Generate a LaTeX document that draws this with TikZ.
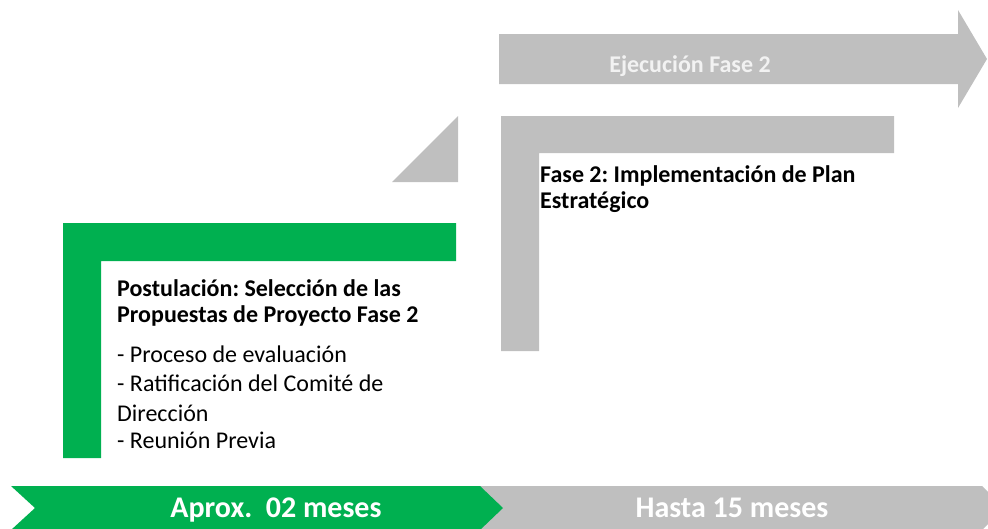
\documentclass[tikz,border=0pt]{standalone}
\usepackage{fontspec}
\setmainfont{Carlito}
\frenchspacing
\definecolor{pgreen}{HTML}{00B050}
\definecolor{pgray}{HTML}{BFBFBF}
\definecolor{ptext}{HTML}{F2F2F2}
\tikzset{
  greenshape/.style={fill=pgreen, draw=none},
  grayshape/.style={fill=pgray, draw=none},
  boxtitle/.style={anchor=base west, inner sep=0pt, font=\fontsize{24}{26}\selectfont\bfseries, text=black},
  boxitem/.style={anchor=base west, inner sep=0pt, font=\fontsize{24}{26}\selectfont, text=black},
  bandlabel/.style={anchor=base, inner sep=0pt, font=\fontsize{30}{32}\selectfont\bfseries, text=white},
  arrowlabel/.style={anchor=base, inner sep=0pt, font=\fontsize{24}{26}\selectfont\bfseries, text=ptext}
}
\begin{document}
\begin{tikzpicture}[x=1pt,y=-1pt]
\useasboundingbox (0,0) rectangle (988,528);
\clip (0,0) rectangle (988,528);
% top arrow
\fill[grayshape] (499,34) -- (958,34) -- (958,10) -- (987,59) -- (958,108) -- (958,84) -- (499,84) -- cycle;
\node[arrowlabel] (ejec) at (690,72) {Ejecución Fase 2};
% triangle
\fill[grayshape] (392,182) -- (458,116) -- (458,182) -- cycle;
% gray L
\fill[grayshape] (501,116) -- (894,116) -- (894,153) -- (539,153) -- (539,351) -- (501,351) -- cycle;
\node[boxtitle] (f2a) at (540,182) {Fase 2: Implementación de Plan};
\node[boxtitle] (f2b) at (540,208) {Estratégico};
% green L
\fill[greenshape] (63,223) -- (456,223) -- (456,261) -- (101,261) -- (101,458) -- (63,458) -- cycle;
\node[boxtitle] (pa) at (117,296) {Postulación: Selección de las};
\node[boxtitle] (pb) at (117,322) {Propuestas de Proyecto Fase 2};
\node[boxitem] (i1) at (117,362) {- Proceso de evaluación};
\node[boxitem] (i2) at (117,391) {- Ratificación del Comité de};
\node[boxitem] (i3) at (117,421) {Dirección};
\node[boxitem] (i4) at (117,448) {- Reunión Previa};
% bottom bands
\fill[grayshape] (470,486) -- (982,486) -- (1004,508) -- (982,530) -- (470,530) -- cycle;
\fill[greenshape] (11,486) -- (480,486) -- (503,508) -- (480,530) -- (11,530) -- (35,508) -- cycle;
\node[bandlabel] (aprox) at (276,517) {Aprox.\ \ 02 meses};
\node[bandlabel] (hasta) at (732,517) {Hasta 15 meses};
\end{tikzpicture}
\end{document}
